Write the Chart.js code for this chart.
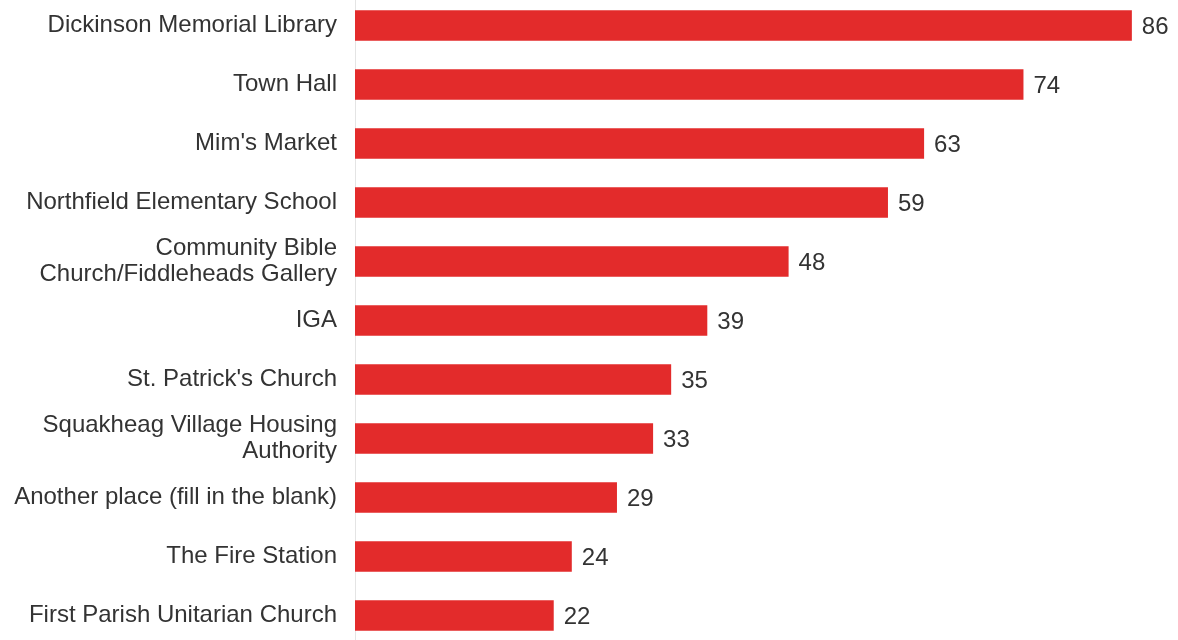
<!DOCTYPE html>
<html>
<head>
<meta charset="utf-8">
<script src="https://cdn.jsdelivr.net/npm/chart.js@4"></script>
<style>
  html, body { margin: 0; padding: 0; background: #fff; overflow: hidden; }
  #wrap { position: absolute; left: 0; top: -4px; width: 1178px; height: 649px; }
</style>
</head>
<body>
<div id="wrap"><canvas id="placesChart"></canvas></div>
<script>
const places = [
    "Dickinson Memorial Library",
    "Town Hall",
    "Mim's Market",
    "Northfield Elementary School",
    ["Community Bible", "Church/Fiddleheads Gallery"],
    "IGA",
    "St. Patrick's Church",
    ["Squakheag Village Housing", "Authority"],
    "Another place (fill in the blank)",
    "The Fire Station",
    "First Parish Unitarian Church",
];
const votes = [86, 74, 63, 59, 48, 39, 35, 33, 29, 24, 22];

// numbers at the end of each bar
const valueLabels = {
    id: "valueLabels",
    afterDatasetsDraw(chart) {
        const ctx = chart.ctx;
        const meta = chart.getDatasetMeta(0);
        ctx.save();
        ctx.font = "24px 'Liberation Sans', Arial, sans-serif";
        ctx.fillStyle = "#333";
        ctx.textAlign = "left";
        ctx.textBaseline = "middle";
        meta.data.forEach(function (bar, i) {
            ctx.fillText(String(votes[i]), bar.x + 10, bar.y + 2);
        });
        ctx.restore();
    },
};

new Chart(document.getElementById("placesChart"), {
    type: "bar",
    data: {
        labels: places,
        datasets: [
            {
                data: votes,
                backgroundColor: "rgb(227, 43, 43)",
                borderWidth: 0,
                categoryPercentage: 1,
                barPercentage: 0.52,
            },
        ],
    },
    options: {
        indexAxis: "y",
        responsive: true,
        maintainAspectRatio: false,
        animation: false,
        layout: { autoPadding: false, padding: { left: 0, right: 10, top: 0, bottom: 0 } },
        plugins: {
            legend: { display: false },
            tooltip: { enabled: false },
        },
        scales: {
            x: {
                min: 0,
                max: 90,
                display: false,
            },
            y: {
                grid: { display: false, drawTicks: false },
                border: { display: true, color: "#e4e4e4", width: 1 },
                ticks: {
                    padding: 18,
                    color: "#333",
                    font: { family: "'Liberation Sans', Arial, sans-serif", size: 24, lineHeight: 1.1 },
                },
                afterFit(scale) {
                    scale.width = 355;
                    scale.paddingTop = 0;
                    scale.paddingBottom = 0;
                },
            },
        },
    },
    plugins: [valueLabels],
});
</script>
</body>
</html>
